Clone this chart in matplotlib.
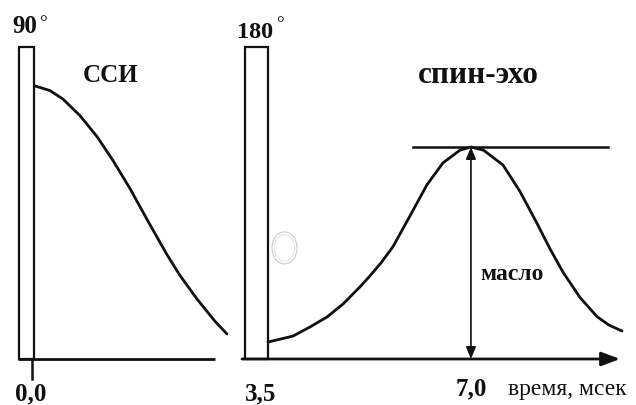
import matplotlib
matplotlib.use("Agg")
import matplotlib.pyplot as plt
from matplotlib.patches import Rectangle, Ellipse

# ---- data (time in ms, amplitude relative to echo peak) ----
fid_t = [0.048, 0.287, 0.494, 0.765, 1.037, 1.292, 1.563, 1.850, 2.153, 2.360, 2.631, 2.918, 3.110]
fid_a = [1.288, 1.266, 1.226, 1.148, 1.049, 0.936, 0.804, 0.650, 0.492, 0.394, 0.283, 0.178, 0.118]

echo_t = [3.763, 4.162, 4.433, 4.704, 4.959, 5.230, 5.390, 5.570, 5.757, 6.028, 6.299, 6.554, 6.825,
          7.000, 7.200, 7.511, 7.782, 8.053, 8.260, 8.467, 8.739, 9.010, 9.200, 9.408]
echo_a = [0.080, 0.108, 0.151, 0.198, 0.259, 0.340, 0.392, 0.455, 0.530, 0.675, 0.822, 0.925, 0.985,
          1.000, 0.985, 0.915, 0.790, 0.640, 0.520, 0.410, 0.290, 0.200, 0.160, 0.132]

pulse_labels = ["90", "180"]
pulse_start = [-0.207, 3.397]
pulse_end = [0.032, 3.763]
pulse_height = 1.472

tick_labels = ["0,0", "3,5", "7,0"]
tick_label_x = [-0.016, 3.652, 7.0]
echo_peak_t = 7.0
echo_peak_a = 1.0
axis_label = "время, мсек"
title_fid = "ССИ"
title_echo = "спин-эхо"
arrow_label = "масло"

# ---- figure ----
fig = plt.figure(figsize=(6.36, 4.06), dpi=100)
ax = fig.add_axes([0, 0, 1, 1])
ax.set_xlim(-0.510, 9.632)
ax.set_ylim(-0.217, 1.698)
ax.axis("off")

serif = ["Liberation Serif", "DejaVu Serif"]
k = "#111111"

# pulses
for lab, s, e in zip(pulse_labels, pulse_start, pulse_end):
    ax.add_patch(Rectangle((s, 0), e - s, pulse_height, fill=False, ec=k, lw=1.6))

# baselines
ax.plot([-0.223, 2.918], [0, 0], color=k, lw=2.0, solid_capstyle="butt")
ax.annotate("", xy=(9.377, 0), xytext=(3.349, 0),
            arrowprops=dict(arrowstyle="-|>,head_length=0.8,head_width=0.3",
                            mutation_scale=14, color=k, lw=2.0,
                            shrinkA=0, shrinkB=0))
# tick at 0
ax.plot([0.0, 0.0], [0, -0.094], color=k, lw=1.8)

# curves
ax.plot(fid_t, fid_a, color=k, lw=2.0, solid_capstyle="round", solid_joinstyle="round")
ax.plot(echo_t, echo_a, color=k, lw=2.0, solid_capstyle="round", solid_joinstyle="round")

# echo peak reference line and double arrow
ax.plot([6.076, 9.185], [echo_peak_a, echo_peak_a], color=k, lw=1.8)
ax.annotate("", xy=(echo_peak_t, 0), xytext=(echo_peak_t, echo_peak_a),
            arrowprops=dict(arrowstyle="<|-|>,head_length=0.6,head_width=0.25",
                            mutation_scale=12, color=k, lw=1.2,
                            shrinkA=0, shrinkB=0))

# faint scan artifact
ax.add_patch(Ellipse((4.027, 0.524), 0.399, 0.151, fill=False, ec="#cccccc", lw=0.8))
ax.add_patch(Ellipse((4.027, 0.524), 0.33, 0.125, fill=False, ec="#dddddd", lw=0.6))

# texts
ax.text(-0.112, 1.542, "90", family=serif, fontweight="bold", fontsize=18,
        ha="center", va="baseline", color=k)
ax.text(0.175, 1.566, "°", family=serif, fontsize=14, ha="center", va="baseline", color=k)
ax.text(3.560, 1.519, "180", family=serif, fontweight="bold", fontsize=17.5,
        ha="center", va="baseline", color=k)
ax.text(3.960, 1.561, "°", family=serif, fontsize=14, ha="center", va="baseline", color=k)

ax.text(1.260, 1.311, title_fid, family=serif, fontweight="bold", fontsize=18,
        ha="center", va="baseline", color=k)
ax.text(7.112, 1.307, title_echo, family=serif, fontweight="bold", fontsize=22.5,
        ha="center", va="baseline", color=k)
ax.text(7.144, 0.377, arrow_label, family=serif, fontweight="bold", fontsize=17,
        ha="left", va="baseline", color=k)

tick_y = [-0.189, -0.189, -0.165]
for lab, x, y in zip(tick_labels, tick_label_x, tick_y):
    ax.text(x, y, lab, family=serif, fontweight="bold", fontsize=18,
            ha="center", va="baseline", color=k)
ax.text(7.590, -0.165, axis_label, family=serif, fontsize=17,
        ha="left", va="baseline", color=k)

fig.savefig("out.png", dpi=100)
